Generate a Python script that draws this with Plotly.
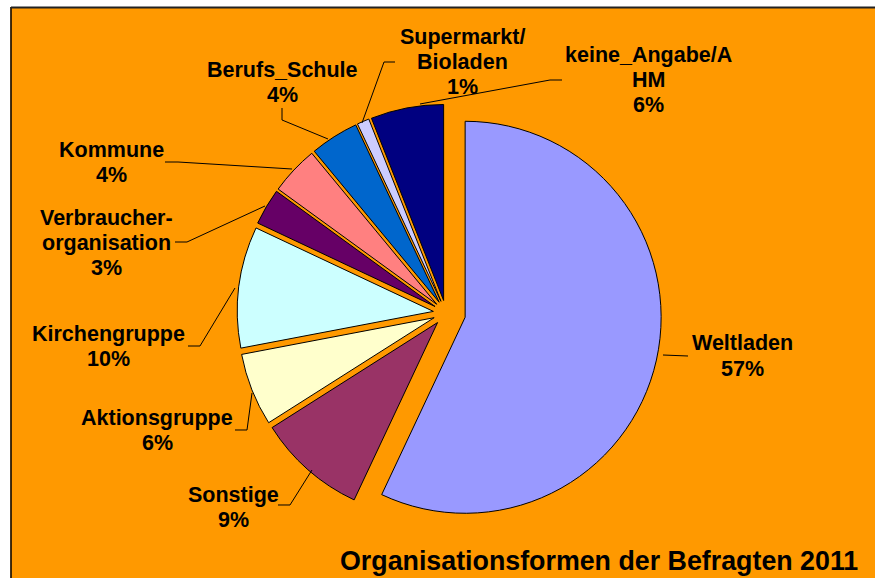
import plotly.graph_objects as go

# ---- data ----
categories = ["Weltladen", "Sonstige", "Aktionsgruppe", "Kirchengruppe",
              "Verbraucher-organisation", "Kommune", "Berufs_Schule",
              "Supermarkt/Bioladen", "keine_Angabe/AHM"]
values = [57, 9, 6, 10, 3, 4, 4, 1, 6]
label_lines = [
    ["Weltladen", "57%"],
    ["Sonstige", "9%"],
    ["Aktionsgruppe", "6%"],
    ["Kirchengruppe", "10%"],
    ["Verbraucher-", "organisation", "3%"],
    ["Kommune", "4%"],
    ["Berufs_Schule", "4%"],
    ["Supermarkt/", "Bioladen", "1%"],
    ["keine_Angabe/A", "HM", "6%"],
]
title_text = "Organisationsformen der Befragten 2011"

# ---- styles / layout ----
colors = ["#9999FF", "#993366", "#FFFFCC", "#CCFFFF", "#660066",
          "#FF8080", "#0066CC", "#CCCCFF", "#000080"]
pulls = [0.10, 0.065, 0.065, 0.065, 0.065, 0.065, 0.065, 0.065, 0.065]
W, H = 875, 578
ORANGE = "#FF9900"

def px(x):
    return x / W

def py(y):
    return 1 - y / H

# pie geometry (pixel centre & radius)
cx, cy, r = 446, 313, 196
half = r * (1 + max(pulls))

# label block centres (pixels)
label_pos = [(742, 356), (233, 507), (157, 430), (108, 346), (106, 243),
             (111, 162), (282, 82), (462, 62), (648, 80)]
# leader lines (pixels)
leaders = [
    [(663, 355), (688, 356)],
    [(312, 470), (290, 505), (278, 505)],
    [(252, 393), (247, 430), (235, 430)],
    [(235, 288), (200, 346), (188, 346)],
    [(265, 206), (187, 242), (175, 242)],
    [(292, 169), (178, 162), (165, 162)],
    [(328, 139), (282, 120), (282, 108)],
    [(362, 123), (384, 62), (395, 62)],
    [(420, 104), (550, 80), (562, 80)],
]
LINE_GAP = 25
FONT = dict(family="Liberation Sans, Arial, sans-serif", size=21.5, color="black", weight="bold")

fig = go.Figure()
fig.add_trace(go.Pie(
    labels=categories, values=values, sort=False, direction="clockwise",
    rotation=0, pull=pulls, textinfo="none", hoverinfo="label+percent",
    marker=dict(colors=colors, line=dict(color="black", width=1)),
    domain=dict(x=[px(cx - half), px(cx + half)], y=[py(cy + half), py(cy - half)]),
    showlegend=False,
))

annotations = []
for lines, (lx, ly) in zip(label_lines, label_pos):
    n = len(lines)
    for i, t in enumerate(lines):
        yy = ly + (i - (n - 1) / 2) * LINE_GAP
        annotations.append(dict(
            x=px(lx), y=py(yy), xref="paper", yref="paper", text=t,
            showarrow=False, xanchor="center", yanchor="middle", font=FONT))

annotations.append(dict(
    x=px(860), y=py(561), xref="paper", yref="paper", text=title_text,
    showarrow=False, xanchor="right", yanchor="middle",
    font=dict(family="Liberation Sans, Arial, sans-serif", size=26.8, color="black", weight="bold")))

shapes = []
for pts in leaders:
    path = "M " + " L ".join(f"{px(x):.5f},{py(y):.5f}" for x, y in pts)
    shapes.append(dict(type="path", path=path, xref="paper", yref="paper",
                       line=dict(color="black", width=1)))

# white outer margins and black frame at left/top
shapes.append(dict(type="rect", xref="paper", yref="paper", x0=0, x1=px(10.5), y0=0, y1=1,
                   fillcolor="white", line=dict(width=0)))
shapes.append(dict(type="rect", xref="paper", yref="paper", x0=0, x1=1, y0=py(7), y1=1,
                   fillcolor="white", line=dict(width=0)))
shapes.append(dict(type="line", xref="paper", yref="paper", x0=px(11), x1=px(11), y0=0, y1=py(7),
                   line=dict(color="black", width=1.5)))
shapes.append(dict(type="line", xref="paper", yref="paper", x0=px(11), x1=1, y0=py(7.5), y1=py(7.5),
                   line=dict(color="#222", width=2)))

fig.update_layout(
    width=W, height=H, margin=dict(l=0, r=0, t=0, b=0),
    paper_bgcolor=ORANGE, plot_bgcolor=ORANGE,
    annotations=annotations, shapes=shapes,
)

fig.write_html("out.html", config={"displayModeBar": False},
               post_script="document.body.style.margin='0';document.body.style.overflow='hidden';")
